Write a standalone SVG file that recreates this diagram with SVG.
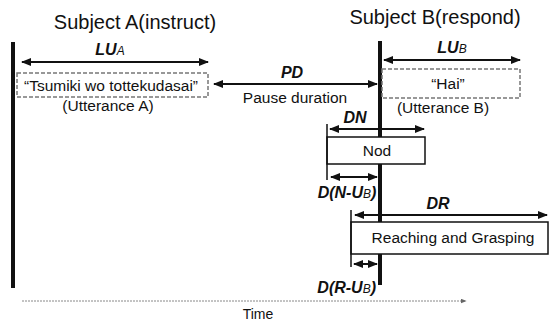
<svg xmlns="http://www.w3.org/2000/svg" width="549" height="324" viewBox="0 0 549 324">
<style>
text{font-family:"Liberation Sans",Arial,sans-serif;fill:#111}
.title{font-size:20px}
.t{font-size:15.5px}
.lbl{font-size:16px;font-style:italic;font-weight:bold}
.sub{font-size:12px;font-weight:normal}
.arr{stroke:#111;stroke-width:2;fill:none;marker-start:url(#ah);marker-end:url(#ah)}
.life{stroke:#111;stroke-width:4}
.tick{stroke:#111;stroke-width:1.5}
.dash{fill:none;stroke:#777;stroke-width:1.5;stroke-dasharray:4 2}
.box{fill:#fff;stroke:#111;stroke-width:1.5}
</style>
<defs>
<marker id="ah" viewBox="0 0 10 8" refX="9" refY="4" markerWidth="5" markerHeight="4" orient="auto-start-reverse" markerUnits="strokeWidth">
<path d="M0,0 L10,4 L0,8 Z" fill="#111"/>
</marker>
<marker id="ts" viewBox="0 0 10 8" refX="9" refY="4" markerWidth="6" markerHeight="5" orient="auto">
<path d="M0,0 L10,4 L0,8 Z" fill="#666"/>
</marker>
</defs>
<g id="subjectA">
<text class="title" x="135" y="29" text-anchor="middle">Subject A(instruct)</text>
<line class="life" x1="13" y1="42" x2="13" y2="288"/>
</g>
<g id="subjectB">
<text class="title" x="435" y="24" text-anchor="middle">Subject B(respond)</text>
<line class="life" x1="380" y1="41" x2="380" y2="285"/>
</g>
<g id="utteranceA">
<rect class="dash" x="17" y="73" width="191" height="24"/>
<text class="t" x="111" y="91" text-anchor="middle">“Tsumiki wo tottekudasai”</text>
<text class="t" x="108" y="111" text-anchor="middle">(Utterance A)</text>
</g>
<g id="utteranceB">
<rect class="dash" x="382" y="69" width="138" height="29"/>
<text class="t" x="448" y="89" text-anchor="middle">“Hai”</text>
<text class="t" x="443" y="113" text-anchor="middle">(Utterance B)</text>
</g>
<g id="nod">
<rect class="box" x="327" y="137" width="98" height="27"/>
<text class="t" x="377" y="156" text-anchor="middle">Nod</text>
</g>
<g id="reaching">
<rect class="box" x="351" y="222" width="197" height="32"/>
<text class="t" x="453" y="243" text-anchor="middle">Reaching and Grasping</text>
</g>
<g id="connectors">
<line class="arr" x1="22" y1="62" x2="208" y2="62"/>
<text class="lbl" x="110" y="55" text-anchor="middle">LU<tspan class="sub">A</tspan></text>
<line class="arr" x1="214" y1="84" x2="377" y2="84"/>
<text class="lbl" x="292" y="78" text-anchor="middle">PD</text>
<text class="t" x="295" y="103" text-anchor="middle">Pause duration</text>
<line class="arr" x1="384" y1="60" x2="520" y2="60"/>
<text class="lbl" x="452" y="53" text-anchor="middle">LU<tspan class="sub">B</tspan></text>
<line class="tick" x1="327" y1="124" x2="327" y2="180"/>
<line class="arr" x1="330" y1="129" x2="424" y2="129"/>
<text class="lbl" x="355" y="123" text-anchor="middle">DN</text>
<line class="arr" x1="331" y1="177" x2="377" y2="177"/>
<text class="lbl" x="347" y="198" text-anchor="middle">D(N-U<tspan class="sub">B</tspan>)</text>
<line class="tick" x1="351" y1="210" x2="351" y2="267"/>
<line class="arr" x1="355" y1="215" x2="547" y2="215"/>
<text class="lbl" x="438" y="209" text-anchor="middle">DR</text>
<line class="arr" x1="354" y1="264" x2="377" y2="264"/>
<text class="lbl" x="376" y="293" text-anchor="end">D(R-U<tspan class="sub">B</tspan>)</text>
<line x1="22" y1="301" x2="466" y2="301" stroke="#888" stroke-width="1" stroke-dasharray="2 1" marker-end="url(#ts)"/>
<text class="t" x="258" y="319" text-anchor="middle" style="font-size:14px">Time</text>
</g>
</svg>
